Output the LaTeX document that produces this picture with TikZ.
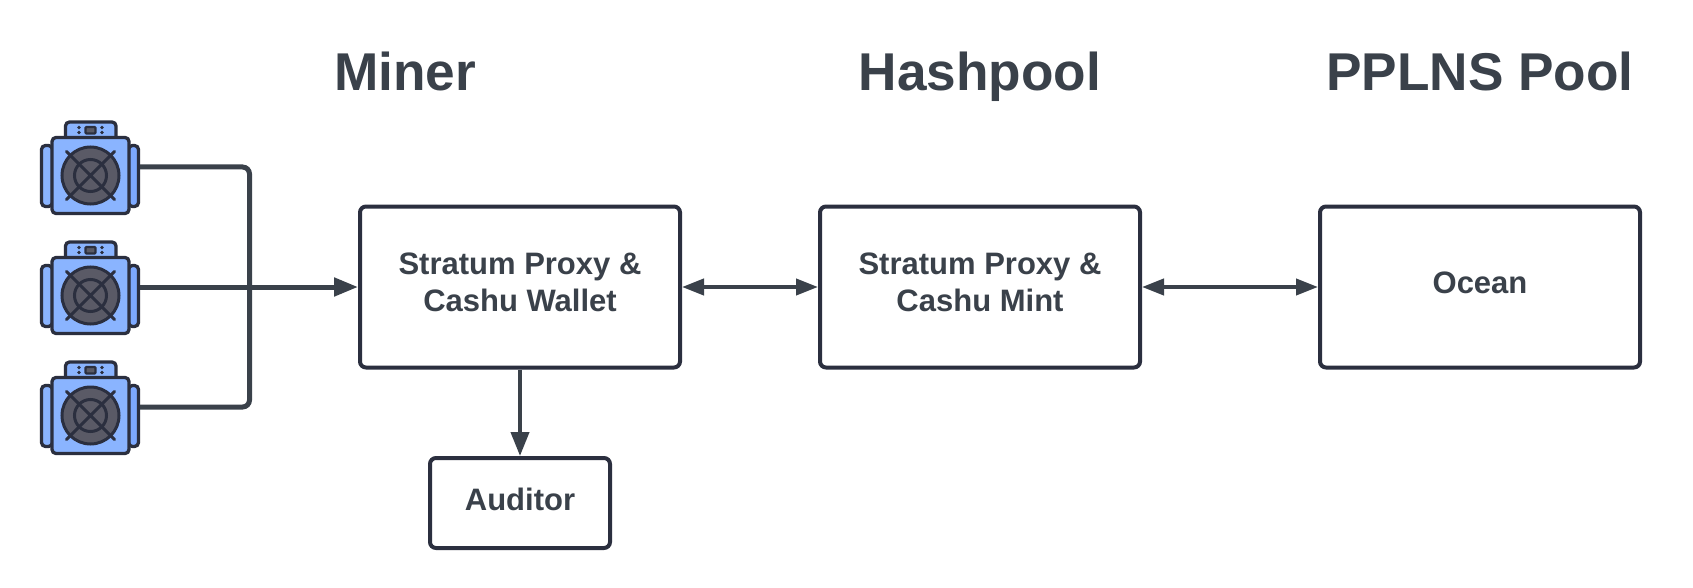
\documentclass[tikz,border=0pt]{standalone}
\usepackage{fontspec}
\setmainfont{Liberation Sans}
\usetikzlibrary{arrows.meta}
\definecolor{ink}{HTML}{3A414A}
\definecolor{iconline}{HTML}{2B2F3F}
\definecolor{bluebody}{HTML}{8AB4FF}
\definecolor{blueside}{HTML}{7DA9FF}
\definecolor{fanfill}{HTML}{5A5A66}
\tikzset{
  x=1pt,y=-1pt,
  boxnode/.style={draw=iconline,line width=4pt,rounded corners=6pt,fill=white,inner sep=0pt},
  boxtext/.style={text=ink,font=\fontsize{31}{36.5}\selectfont\bfseries,align=center,inner sep=0pt},
  titletext/.style={text=ink,font=\fontsize{53.2}{60}\selectfont\bfseries,inner sep=0pt,anchor=base},
  conn/.style={draw=ink,line width=4pt},
  busline/.style={draw=ink,line width=5pt,rounded corners=7pt},
  headone/.style={-{Triangle[length=24pt,width=18pt]}},
  headtwo/.style={{Triangle[length=22pt,width=16pt]}-{Triangle[length=22pt,width=16pt]}},
  iconpart/.style={draw=iconline,line width=3.3pt,rounded corners=4pt},
  miner/.pic={
    \path[iconpart,fill=bluebody] (-25,-53.5) rectangle (25.5,-30);
    \path[iconpart,fill=bluebody] (-49,-30) rectangle (-38,31);
    \path[iconpart,fill=blueside] (38,-30) rectangle (48,31);
    \path[iconpart,fill=bluebody] (-38.5,-38) rectangle (38.5,38);
    \foreach \px in {-11.5,11.5}{\foreach \py in {-48,-43}{\fill[iconline] (\px,\py) circle[radius=1.9pt];}}
    \draw[iconline,line width=2.4pt,fill=fanfill,rounded corners=1pt] (-5,-48.5) rectangle (5,-42);
    \draw[iconline,line width=3pt,fill=fanfill] (0,0) circle[radius=28.5pt];
    \draw[iconline,line width=3pt] (0,0) circle[radius=16pt];
    \draw[iconline,line width=3pt,line cap=round] (-24,-24) -- (24,24) (-24,24) -- (24,-24);
  }
}
\begin{document}
\begin{tikzpicture}
\useasboundingbox (0,0) rectangle (1693,588);
\fill[white] (0,0) rectangle (1693,588);

\node[titletext] (t1) at (405,91) {Miner};
\node[titletext] (t2) at (980,91) {Hashpool};
\node[titletext] (t3) at (1480,91) {PPLNS Pool};

\pic at (90.5,175.5) {miner};
\pic at (90.5,295.5) {miner};
\pic at (90.5,415.5) {miner};
\coordinate (m1) at (140,167);
\coordinate (m2) at (140,287);
\coordinate (m3) at (140,407);
\coordinate (bus) at (249.5,287);

\node[boxnode,minimum width=320pt,minimum height=161pt] (b1) at (520,287) {};
\node[boxnode,minimum width=320pt,minimum height=161pt] (b2) at (980,287) {};
\node[boxnode,minimum width=320pt,minimum height=161pt] (b3) at (1480,287) {};
\node[boxnode,minimum width=180pt,minimum height=90pt] (b4) at (520,503) {};

\node[boxtext] (l1) at (520,282.5) {Stratum Proxy \&\\Cashu Wallet};
\node[boxtext] (l2) at (980,282.5) {Stratum Proxy \&\\Cashu Mint};
\node[boxtext] (l3) at (1480,283) {Ocean};
\node[boxtext] (l4) at (520,499.5) {Auditor};

\draw[busline] (m1) -| (bus);
\draw[busline] (m3) -| (bus);
\draw[conn,line width=5pt,headone] (m2) -- (b1.west);
\draw[conn,headtwo] (b1.east) -- (b2.west);
\draw[conn,headtwo] (b2.east) -- (b3.west);
\draw[conn,headone] (b1.south -| b4.north) -- (b4.north);
\end{tikzpicture}
\end{document}
